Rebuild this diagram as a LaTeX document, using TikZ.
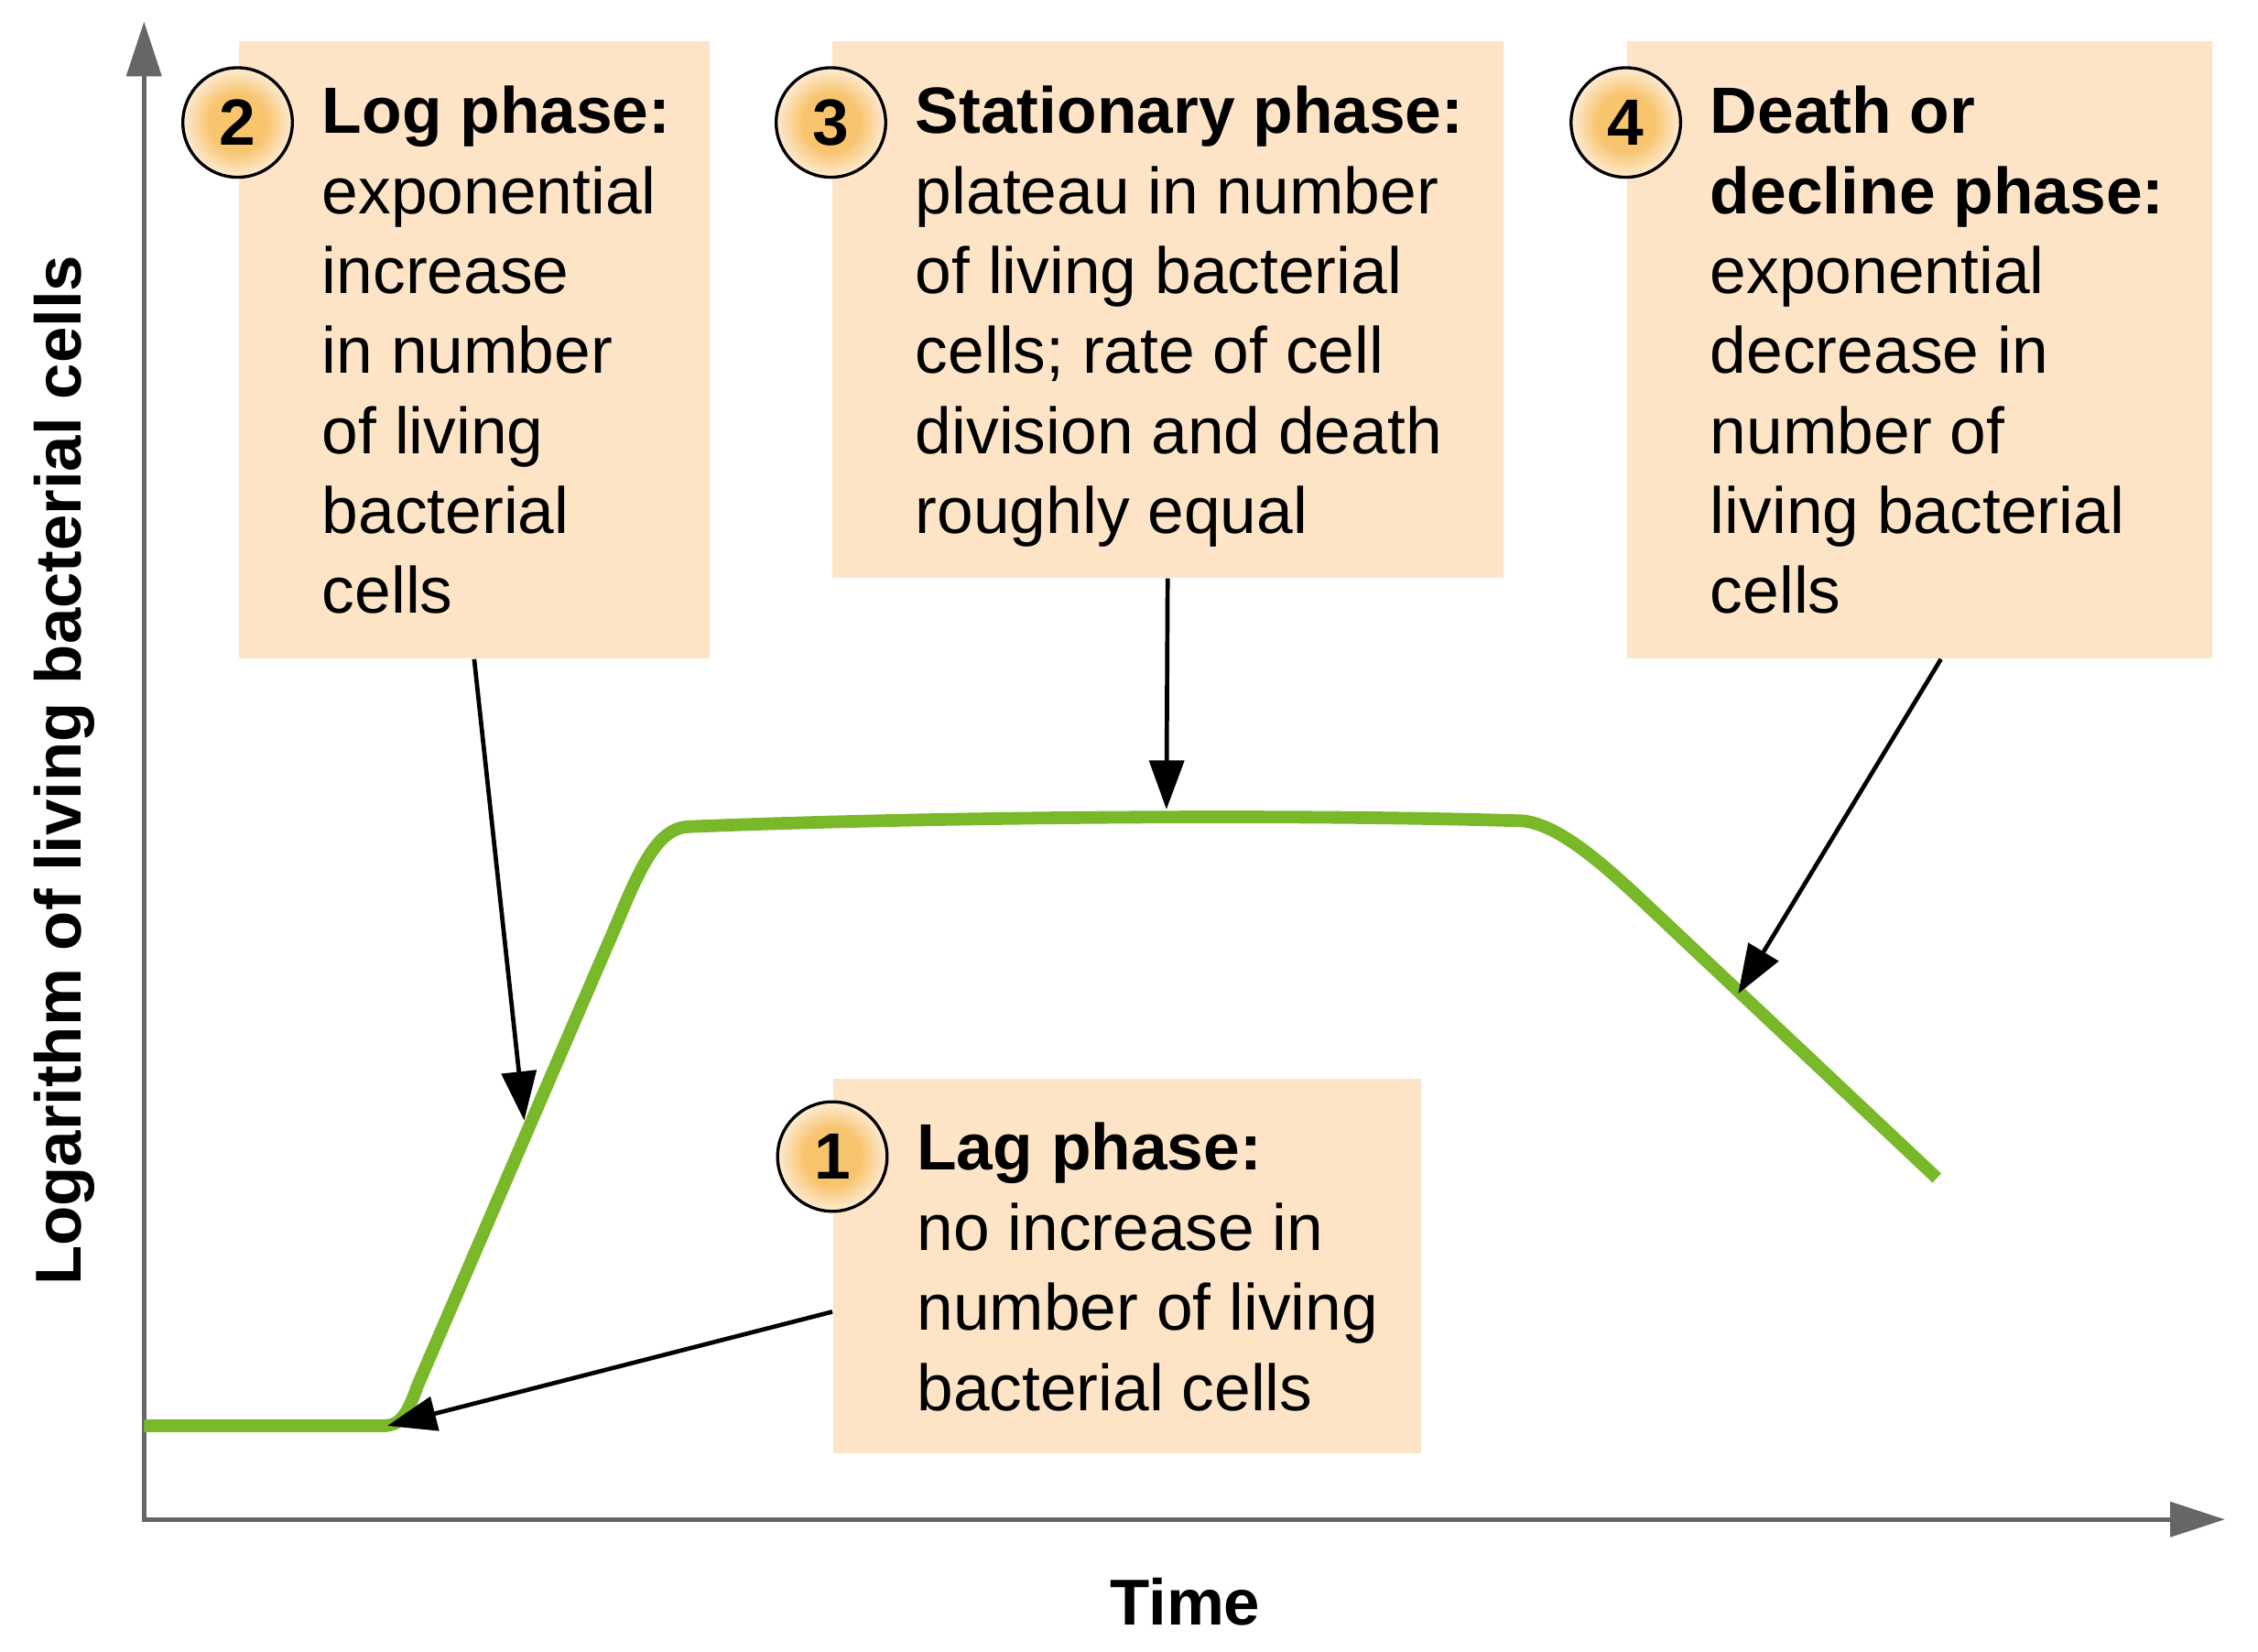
\documentclass[tikz,border=0pt]{standalone}
\usepackage{fontspec}
\setmainfont{Liberation Sans}
\usetikzlibrary{arrows.meta, positioning}

\definecolor{boxpeach}{HTML}{FDE4C6}
\definecolor{badgeorange}{HTML}{F8C46E}
\definecolor{badgelight}{HTML}{FDEBD3}
\definecolor{curvegreen}{HTML}{78B829}
\definecolor{axisgray}{HTML}{666666}

\pgfdeclareradialshading{badgeglow}{\pgfpoint{0bp}{0bp}}{color(0bp)=(badgeorange); color(13bp)=(badgeorange); color(25bp)=(badgelight); color(50bp)=(badgelight)}

\tikzset{
  phasebox/.style={rectangle, fill=boxpeach, inner sep=0pt, anchor=north west},
  phasetext/.style={inner sep=0pt, align=left, font=\fontsize{12.9}{15.8}\selectfont},
  badge/.style={circle, draw=black, line width=0.6pt, shading=badgeglow, minimum size=0.76cm, inner sep=0pt, font=\fontsize{12.9}{15.8}\selectfont\bfseries},
  pointer/.style={line width=0.85pt, -{Triangle[length=0.34cm, width=0.24cm]}},
  axis/.style={axisgray, line width=0.9pt},
  axislabel/.style={font=\fontsize{12.8}{15}\selectfont\bfseries},
}

\begin{document}
\begin{tikzpicture}[x=0.01cm, y=-0.01cm]
    % picture frame
    \useasboundingbox (0,0) rectangle (1568,1147);

    % axes
    \coordinate (O) at (100,1055);
    \coordinate (ytip) at (100,15);
    \coordinate (xtip) at (1545,1055);
    \draw[axis, {Triangle[length=0.38cm, width=0.24cm]}-{Triangle[length=0.38cm, width=0.24cm]}] (ytip) -- (O) -- (xtip);
    \node[axislabel] (timelabel) at (823,1112) {Time};
    \node[axislabel, rotate=90] (ylabel) at (45,535) {Logarithm of living bacterial cells};

    % phase boxes
    \node[phasebox, minimum width=3.27cm, minimum height=4.28cm] (logbox) at (165,28) {};
    \node[phasebox, minimum width=4.66cm, minimum height=3.72cm] (statbox) at (577,28) {};
    \node[phasebox, minimum width=4.06cm, minimum height=4.28cm] (deathbox) at (1129,28) {};
    \node[phasebox, minimum width=4.08cm, minimum height=2.60cm] (lagbox) at (578,748) {};

    % texts in the boxes
    \node[phasetext, below right=0.31cm and 0.58cm of logbox.north west] (logtext)
        {\textbf{Log phase:}\\exponential\\increase\\in number\\of living\\bacterial\\cells};
    \node[phasetext, below right=0.31cm and 0.58cm of statbox.north west] (stattext)
        {\textbf{Stationary phase:}\\plateau in number\\of living bacterial\\cells; rate of cell\\division and death\\roughly equal};
    \node[phasetext, below right=0.31cm and 0.58cm of deathbox.north west] (deathtext)
        {\textbf{Death or}\\\textbf{decline phase:}\\exponential\\decrease in\\number of\\living bacterial\\cells};
    \node[phasetext, below right=0.31cm and 0.58cm of lagbox.north west] (lagtext)
        {\textbf{Lag phase:}\\no increase in\\number of living\\bacterial cells};

    % growth curve
    \draw[curvegreen, line width=2.5pt, line join=round]
        (100,990) -- (266,990) .. controls (278,990) and (283,982) .. (290,962)
        -- (428,642) .. controls (444,604) and (456,575) .. (478,574)
        .. controls (650,567) and (900,565) .. (1058,570)
        .. controls (1082,573) and (1110,597) .. (1140,625) -- (1345,818);

    % points on the curve
    \coordinate (lagpt) at (269,990);
    \coordinate (logpt) at (364,778);
    \coordinate (statpt) at (810,562);
    \coordinate (deathpt) at (1207,690);

    % pointers
    \draw[pointer] ([yshift=-0.32cm]lagbox.west) -- (lagpt);
    \draw[pointer] (logbox.south) -- (logpt);
    \draw[pointer] (statbox.south) -- (statpt);
    \draw[pointer] ([xshift=0.15cm]deathbox.south) -- (deathpt);

    % numbered badges
    \node[badge] (lagbadge) at ([yshift=-0.55cm]lagbox.north west) {1};
    \node[badge] (logbadge) at ([yshift=-0.57cm]logbox.north west) {2};
    \node[badge] (statbadge) at ([yshift=-0.57cm]statbox.north west) {3};
    \node[badge] (deathbadge) at ([yshift=-0.57cm]deathbox.north west) {4};
\end{tikzpicture}
\end{document}
